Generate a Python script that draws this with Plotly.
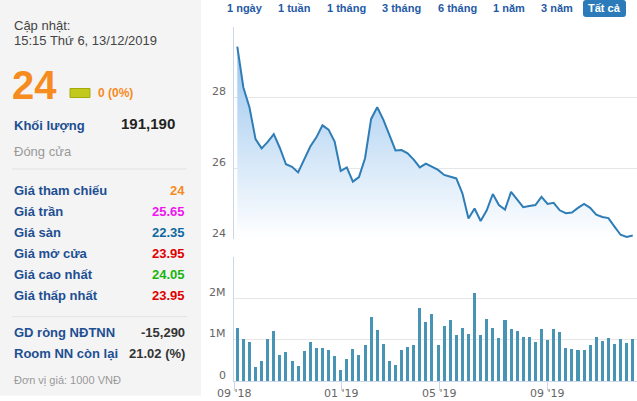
import plotly.graph_objects as go

# ---------------- data ----------------
close = [29.43, 28.28, 27.72, 26.82, 26.56, 26.74, 26.96, 26.57, 26.11, 26.04,
         25.88, 26.24, 26.61, 26.87, 27.21, 27.09, 26.75, 25.92, 26.02, 25.62,
         25.75, 26.28, 27.39, 27.72, 27.37, 26.94, 26.50, 26.51, 26.42, 26.24,
         26.02, 26.13, 26.03, 25.95, 25.81, 25.76, 25.71, 25.29, 24.58, 24.86,
         24.51, 24.81, 25.27, 24.96, 24.83, 25.33, 25.12, 24.90, 24.93, 24.96,
         25.19, 24.99, 25.02, 24.81, 24.73, 24.75, 24.88, 24.99, 24.88, 24.69,
         24.62, 24.59, 24.35, 24.12, 24.06, 24.10]
volume = [1290000, 1020000, 950000, 340000, 490000, 1020000, 1220000, 630000, 710000, 490000,
          370000, 730000, 950000, 800000, 800000, 760000, 610000, 270000, 540000, 780000,
          630000, 880000, 1540000, 1240000, 900000, 490000, 390000, 760000, 830000, 880000,
          1760000, 1440000, 1630000, 880000, 1340000, 1490000, 1120000, 1290000, 1150000, 2120000,
          1120000, 1510000, 1290000, 1050000, 1490000, 1270000, 1220000, 1070000, 1070000, 950000,
          1270000, 1000000, 1270000, 1200000, 800000, 780000, 760000, 760000, 880000, 1070000,
          980000, 1050000, 900000, 1020000, 930000, 1020000]
weeks = list(range(len(close)))
month_tick_pos = [-0.4, 17.05, 33.2, 50.96]
month_tick_labels = ["09 '18", "01 '19", "05 '19", "09 '19"]
price_ticks = [24, 26, 28, 30]
price_tick_labels = ["24", "26", "28", ""]
vol_ticks = [0, 1000000, 2000000, 3000000]
vol_tick_labels = ["0", "1M", "2M", ""]
range_buttons = ["1 ngày", "1 tuần", "1 tháng", "3 tháng", "6 tháng", "1 năm", "3 năm"]
active_button = "Tất cả"

info_labels = ["Giá tham chiếu", "Giá trần", "Giá sàn", "Giá mở cửa", "Giá cao nhất", "Giá thấp nhất"]
info_values = ["24", "25.65", "22.35", "23.95", "24.05", "23.95"]
info_colors = ["#f68b1f", "#f014f0", "#0e6aa0", "#e00000", "#19b40f", "#e00000"]
foreign_labels = ["GD ròng NĐTNN", "Room NN còn lại"]
foreign_values = ["-15,290", "21.02 (%)"]

W, H = 637, 401
def px(x):
    return x / W
def py(y):
    return 1 - y / H

GRID = "#e6e6e6"
AXIS = "#ccd6eb"
LABEL_BLUE = "#1d4f92"
SANS = "Liberation Sans, Arial, sans-serif"
TICKF = dict(family="DejaVu Sans", size=11, color="#666666")

fig = go.Figure()

fig.add_trace(go.Scatter(
    x=weeks, y=close, mode="lines", xaxis="x", yaxis="y",
    line=dict(color="#2e7db6", width=2),
    fill="tozeroy",
    fillgradient=dict(type="vertical", start=24, stop=29.5,
                      colorscale=[[0, "rgba(255,255,255,1)"], [1, "rgb(152,196,238)"]]),
    hoverinfo="skip", showlegend=False))

fig.add_trace(go.Bar(
    x=weeks, y=volume, xaxis="x2", yaxis="y2",
    marker=dict(color="#4894b4", line=dict(width=0)),
    width=0.5, hoverinfo="skip", showlegend=False))

xr = [-0.54, 65.7]
fig.update_layout(
    width=W, height=H,
    margin=dict(l=0, r=0, t=0, b=0, pad=0, autoexpand=False),
    paper_bgcolor="white", plot_bgcolor="rgba(0,0,0,0)",
    xaxis=dict(domain=[px(234), 1], range=xr, showgrid=False, showticklabels=False,
               zeroline=False, showline=False, anchor="y", automargin=False),
    yaxis=dict(domain=[py(239), py(26.5)], range=[24, 30], tickvals=price_ticks,
               showgrid=True, gridcolor=GRID, gridwidth=1, showticklabels=False,
               zeroline=False, showline=True, linecolor=AXIS, linewidth=1,
               ticks="", anchor="x", automargin=False),
    xaxis2=dict(domain=[px(234), 1], range=xr, showgrid=False, zeroline=False,
                showline=True, linecolor=AXIS, linewidth=1, tickvals=month_tick_pos,
                showticklabels=False, ticks="outside", ticklen=9, tickcolor=AXIS,
                anchor="y2", automargin=False),
    yaxis2=dict(domain=[py(381), py(256.7)], range=[0, 3000000], tickvals=vol_ticks,
                showgrid=True, gridcolor=GRID, gridwidth=1, showticklabels=False,
                zeroline=False, showline=True, linecolor=AXIS, linewidth=1,
                ticks="", anchor="x2", automargin=False),
    bargap=0,
)

shapes = []
# left info panel background
shapes.append(dict(type="rect", xref="paper", yref="paper", x0=0, x1=px(201),
                   y0=py(395.7), y1=1, fillcolor="#f4f4f4", line=dict(width=0), layer="below"))
# separators
for yy in [169, 316.7]:
    shapes.append(dict(type="line", xref="paper", yref="paper", x0=px(12), x1=px(187),
                       y0=py(yy), y1=py(yy), line=dict(color="#e2e2e2", width=1)))
# change indicator bar
shapes.append(dict(type="rect", xref="paper", yref="paper", x0=px(70), x1=px(90),
                   y0=py(97.5), y1=py(88.5), fillcolor="#c2c81c",
                   line=dict(color="#a3ab0c", width=1)))
# active range button (rounded)
bx0, bx1, by0, by1, r = 583, 626, 0, 17, 3
path = (f"M {px(bx0+r)},{py(by0)} L {px(bx1-r)},{py(by0)} "
        f"Q {px(bx1)},{py(by0)} {px(bx1)},{py(by0+r)} L {px(bx1)},{py(by1-r)} "
        f"Q {px(bx1)},{py(by1)} {px(bx1-r)},{py(by1)} L {px(bx0+r)},{py(by1)} "
        f"Q {px(bx0)},{py(by1)} {px(bx0)},{py(by1-r)} L {px(bx0)},{py(by0+r)} "
        f"Q {px(bx0)},{py(by0)} {px(bx0+r)},{py(by0)} Z")
shapes.append(dict(type="path", xref="paper", yref="paper", path=path,
                   fillcolor="#2b7bba", line=dict(width=0)))
fig.update_layout(shapes=shapes)

ann = []
def text(x, y, s, size=13, color="#333333", bold=False, anchor="left", family=SANS):
    t = f"<b>{s}</b>" if bold else s
    ann.append(dict(xref="paper", yref="paper", x=px(x), y=py(y), text=t, showarrow=False,
                    xanchor=anchor, yanchor="middle",
                    font=dict(size=size, color=color, family=family)))

# y-axis tick labels placed on the axis scales (sitting just above their gridlines)
for v, lab in zip(price_ticks, price_tick_labels):
    if lab:
        ann.append(dict(xref="paper", yref="y", x=px(228), y=v, text=lab, showarrow=False,
                        xanchor="right", yanchor="middle", yshift=6, font=TICKF))
for v, lab in zip(vol_ticks, vol_tick_labels):
    if lab:
        ann.append(dict(xref="paper", yref="y2", x=px(228), y=v, text=lab, showarrow=False,
                        xanchor="right", yanchor="middle", yshift=6, font=TICKF))
# x-axis month labels on the x2 scale
for v, lab in zip(month_tick_pos, month_tick_labels):
    ann.append(dict(xref="x2", yref="paper", x=v, y=py(401), text=lab, showarrow=False,
                    xanchor="center", yanchor="bottom", borderpad=0, font=TICKF))

text(12, 25, "Cập nhật:", 13, "#444444")
text(12, 40.5, "15:15 Thứ 6, 13/12/2019", 13, "#444444")
text(10, 84.5, "24", 40, "#f68b1f", bold=True)
text(96, 93, "0 (0%)", 12, "#f68b1f", bold=True)
text(12, 125, "Khối lượng", 13, LABEL_BLUE, bold=True)
text(177, 123, "191,190", 15, "#222222", bold=True, anchor="right")
text(12, 152, "Đóng cửa", 13, "#999999")
row_y = [190.5, 211, 232, 253, 274, 295.5]
for lab, val, col, yy in zip(info_labels, info_values, info_colors, row_y):
    text(12, yy, lab, 13, LABEL_BLUE, bold=True)
    text(187, yy, val, 13, col, bold=True, anchor="right")
for lab, val, yy in zip(foreign_labels, foreign_values, [332, 353]):
    text(12, yy, lab, 13, LABEL_BLUE, bold=True)
    text(187, yy, val, 13, "#333333", bold=True, anchor="right")
text(12, 379.5, "Đơn vị giá: 1000 VNĐ", 11, "#999999")

btn_x = [245, 294, 346, 401, 457, 509, 557]
for lab, cx in zip(range_buttons, btn_x):
    text(cx, 8.5, lab, 11, "#1f5aa6", bold=True, anchor="center")
text(604.5, 8.5, active_button, 11, "white", bold=True, anchor="center")

fig.update_layout(annotations=ann)
fig.write_html("out.html")
